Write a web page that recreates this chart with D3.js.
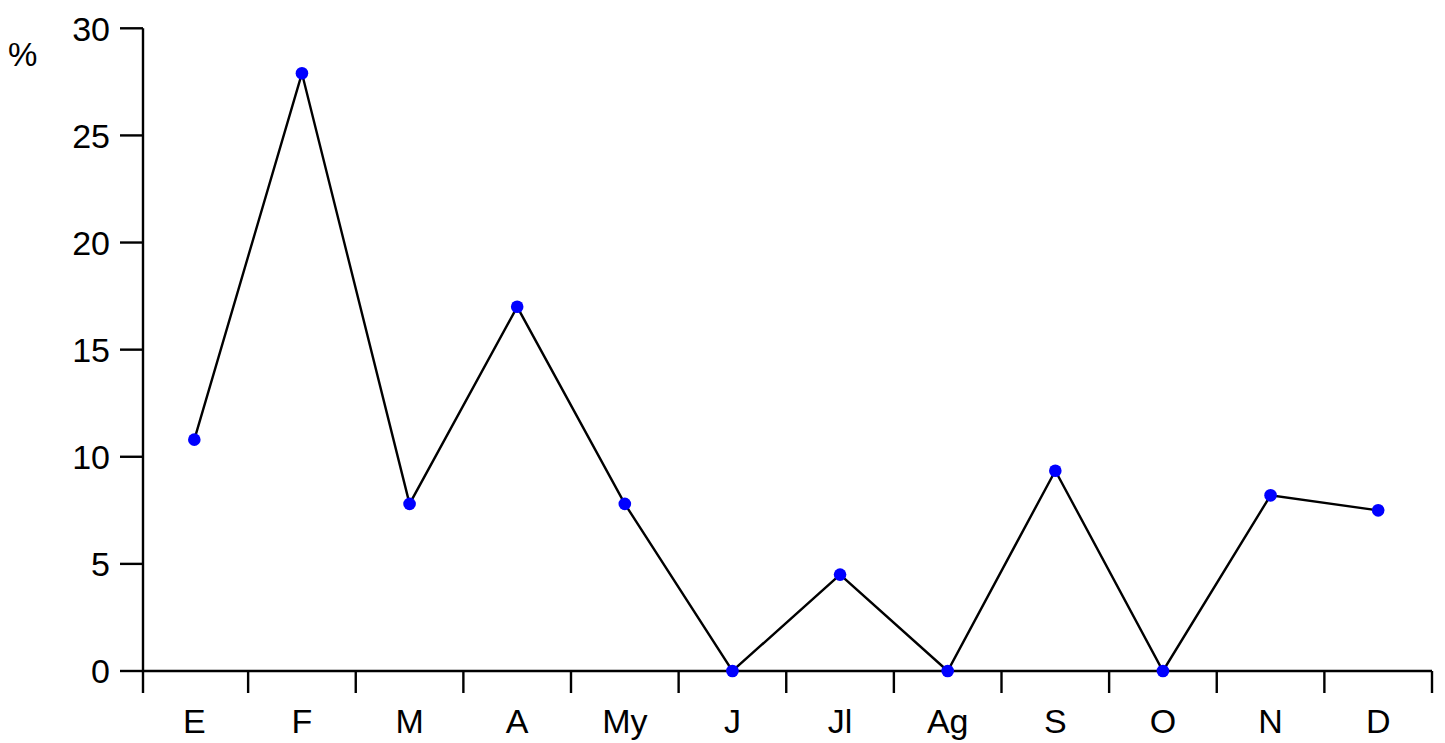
<!DOCTYPE html>
<html><head><meta charset="utf-8">
<script src="https://cdn.jsdelivr.net/npm/d3@7"></script>
<style>body{margin:0;background:#fff}svg{display:block}text{font-family:"Liberation Sans",Arial,sans-serif;fill:#000}</style>
</head><body><svg id="c" width="1445" height="743"></svg>
<script>
const months = ["E","F","M","A","My","J","Jl","Ag","S","O","N","D"];
const values = [10.8,27.9,7.8,17.0,7.8,0,4.5,0,9.35,0,8.2,7.5];
const yTicks = [0,5,10,15,20,25,30];
const yLabel = "%";

const svg = d3.select("#c");
const x = d3.scaleBand().domain(months).range([140.5,1432]);
const y = d3.scaleLinear().domain([0,30]).range([671,28.3]);
const axisX = 143;
const sw = 2.4;

// y axis
const gy = svg.append("g");
gy.append("line").attr("x1",axisX).attr("x2",axisX).attr("y1",y(30)).attr("y2",693).attr("stroke","#000").attr("stroke-width",sw);
yTicks.forEach(t=>{
  gy.append("line").attr("x1",120).attr("x2",axisX).attr("y1",y(t)).attr("y2",y(t)).attr("stroke","#000").attr("stroke-width",sw);
  gy.append("text").attr("x",110).attr("y",y(t)).attr("dy","0.36em").attr("text-anchor","end").attr("font-size",34).text(t);
});
svg.append("text").attr("x",8).attr("y",66).attr("font-size",33).text(yLabel);

// x axis
const gx = svg.append("g");
gx.append("line").attr("x1",axisX).attr("x2",x.range()[1]).attr("y1",y(0)).attr("y2",y(0)).attr("stroke","#000").attr("stroke-width",sw);
months.forEach((m,i)=>{
  if(i>0){
    const ex = x(m);
    gx.append("line").attr("x1",ex).attr("x2",ex).attr("y1",y(0)).attr("y2",693).attr("stroke","#000").attr("stroke-width",sw);
  }
  gx.append("text").attr("x",x(m)+x.bandwidth()/2).attr("y",733).attr("text-anchor","middle").attr("font-size",34).text(m);
});
const endX = x.range()[1];
gx.append("line").attr("x1",endX).attr("x2",endX).attr("y1",y(0)).attr("y2",693).attr("stroke","#000").attr("stroke-width",sw);

// line
const data = months.map((m,i)=>({m,v:values[i]}));
const line = d3.line().x(d=>x(d.m)+x.bandwidth()/2).y(d=>y(d.v));
svg.append("path").datum(data).attr("d",line).attr("fill","none").attr("stroke","#000").attr("stroke-width",2.4);
svg.selectAll("circle.pt").data(data).join("circle").attr("class","pt")
  .attr("cx",d=>x(d.m)+x.bandwidth()/2).attr("cy",d=>y(d.v)).attr("r",6.3).attr("fill","#0000ff");
</script></body></html>
